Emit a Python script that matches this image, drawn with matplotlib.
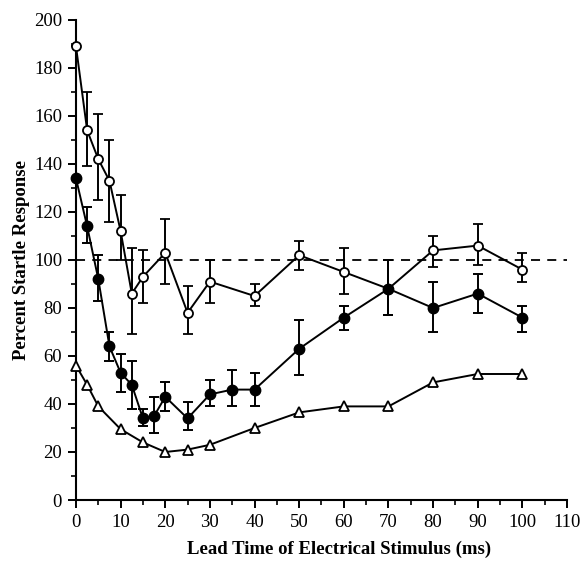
import matplotlib.pyplot as plt
import numpy as np
from matplotlib.ticker import MultipleLocator

plt.rcParams["font.family"] = ["Liberation Serif", "DejaVu Serif"]

# open circles
x_open = [0, 2.5, 5, 7.5, 10, 12.5, 15, 20, 25, 30, 40, 50, 60, 70, 80, 90, 100]
y_open = [189, 154, 142, 133, 112, 86, 93, 103, 78, 91, 85, 102, 95, 88, 104, 106, 96]
err_open_lo = [0, 15, 17, 17, 12, 17, 11, 13, 9, 9, 4, 6, 9, 11, 7, 8, 5]
err_open_hi = [0, 16, 19, 17, 15, 19, 11, 14, 11, 9, 5, 6, 10, 12, 6, 9, 7]

# filled circles
x_fill = [0, 2.5, 5, 7.5, 10, 12.5, 15, 17.5, 20, 25, 30, 35, 40, 50, 60, 70, 80, 90, 100]
y_fill = [134, 114, 92, 64, 53, 48, 34, 35, 43, 34, 44, 46, 46, 63, 76, 88, 80, 86, 76]
err_fill_lo = [0, 7, 9, 6, 8, 10, 3, 7, 6, 5, 5, 7, 7, 11, 5, 11, 10, 8, 6]
err_fill_hi = [0, 8, 10, 6, 8, 10, 4, 8, 6, 7, 6, 8, 7, 12, 5, 12, 11, 8, 5]

# triangles
x_tri = [0, 2.5, 5, 10, 15, 20, 25, 30, 40, 50, 60, 70, 80, 90, 100]
y_tri = [56, 48, 39, 29.5, 24, 20, 21, 23, 30, 36.5, 39, 39, 49, 52.5, 52.5]

baseline = 100

fig = plt.figure(figsize=(5.81, 5.63), dpi=100)
ax = fig.add_axes([0.1308, 0.1119, 0.8451, 0.8526])

ax.axhline(baseline, color="black", linestyle=(0, (5, 4)), linewidth=1.3, zorder=1)

ax.errorbar(x_open, y_open, yerr=[err_open_lo, err_open_hi], fmt="o-", color="black",
            mfc="white", mec="black", mew=1.3, ms=6.5, lw=1.4, elinewidth=1.4,
            capsize=3.5, capthick=1.4, zorder=3, clip_on=False)
ax.errorbar(x_fill, y_fill, yerr=[err_fill_lo, err_fill_hi], fmt="o-", color="black",
            mfc="black", mec="black", ms=7.5, lw=1.4, elinewidth=1.4,
            capsize=3.5, capthick=1.4, zorder=4, clip_on=False)
ax.plot(x_tri, y_tri, "^-", color="black", mfc="white", mec="black", mew=1.3,
        ms=6.5, lw=1.4, zorder=3, clip_on=False)

ax.set_xlim(0, 110)
ax.set_ylim(0, 200)
ax.xaxis.set_major_locator(MultipleLocator(10))
ax.xaxis.set_minor_locator(MultipleLocator(5))
ax.yaxis.set_major_locator(MultipleLocator(20))
ax.yaxis.set_minor_locator(MultipleLocator(10))
ax.tick_params(which="major", direction="out", length=6, width=1.4, labelsize=13.5, pad=4)
ax.tick_params(which="minor", direction="out", length=3.5, width=1.2)
ax.spines["top"].set_visible(False)
ax.spines["right"].set_visible(False)
ax.spines["left"].set_linewidth(1.5)
ax.spines["bottom"].set_linewidth(1.5)

ax.set_xlabel("Lead Time of Electrical Stimulus (ms)", fontsize=13.5, fontweight="bold")
ax.xaxis.set_label_coords(0.536, -0.085)
ax.set_ylabel("Percent Startle Response", fontsize=13.5, fontweight="bold", labelpad=3)

fig.savefig("out.png", dpi=100)
